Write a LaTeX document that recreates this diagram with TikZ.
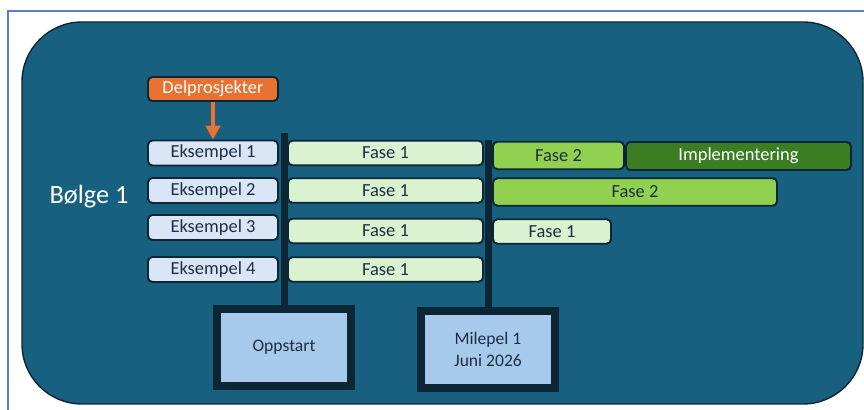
\documentclass[tikz,border=0pt]{standalone}
\usepackage{fontspec}
\setmainfont{Carlito}
\usetikzlibrary{arrows.meta}

\definecolor{bolgebg}{RGB}{23,96,128}
\definecolor{mork}{RGB}{12,38,54}
\definecolor{tekst}{RGB}{30,47,69}
\definecolor{ramme}{RGB}{91,127,208}
\definecolor{delfarge}{RGB}{233,113,50}
\definecolor{eksfarge}{RGB}{218,229,246}
\definecolor{fase1farge}{RGB}{218,242,208}
\definecolor{fase2farge}{RGB}{146,208,80}
\definecolor{implfarge}{RGB}{59,125,35}
\definecolor{milfarge}{RGB}{166,201,236}

\tikzset{
  boks/.style={draw=mork, line width=1.1pt, rounded corners=2.5pt, font=\fontsize{10.5}{12}\selectfont,
    text=tekst, inner sep=0pt},
  eks/.style={boks, fill=eksfarge, minimum width=2.6cm, minimum height=0.5cm},
  fase1/.style={boks, fill=fase1farge, minimum height=0.49cm},
  fase2/.style={boks, fill=fase2farge, minimum height=0.55cm},
  milepel/.style={draw=mork, line width=0.16cm, fill=milfarge, text=tekst, align=center,
    minimum width=2.67cm, minimum height=1.54cm, font=\fontsize{10}{12.5}\selectfont},
  tidslinje/.style={draw=mork, line width=0.14cm},
}

\begin{document}
\begin{tikzpicture}
  \useasboundingbox (0,0) rectangle (17.28,8.2);
  % ramme og bakgrunn
  \draw[ramme, line width=1pt] (0.16,0) -- (0.16,7.98) -- (17.28,7.98);
  \draw[mork, line width=0.8pt, fill=bolgebg, rounded corners=1.2cm] (0.44,0.12) rectangle (17.26,7.76);
  \node[text=white, font=\fontsize{15}{18}\selectfont] (bolge) at (1.78,4.26) {Bølge 1};

  % milepæler nederst
  \node[milepel] (oppstart) at (5.68,1.25) {Oppstart};
  \node[milepel] (milepel1) at (9.76,1.21) {Milepel 1\\Juni 2026};
  \coordinate (topp1) at (5.68,5.54);
  \coordinate (topp2) at (9.76,5.40);
  \draw[tidslinje] (topp1) -- (oppstart);
  \draw[tidslinje] (topp2) -- (milepel1);

  % delprosjekter
  \node[boks, fill=delfarge, text=white, minimum width=2.6cm, minimum height=0.48cm] (delprosjekter) at (4.26,6.42) {Delprosjekter};
  \node[eks] (eks1) at (4.26,5.14) {Eksempel 1};
  \node[eks] (eks2) at (4.26,4.39) {Eksempel 2};
  \node[eks] (eks3) at (4.26,3.65) {Eksempel 3};
  \node[eks] (eks4) at (4.26,2.81) {Eksempel 4};
  \draw[delfarge, line width=2.4pt, -{Triangle[length=2.8mm, width=2.9mm]}] (delprosjekter) -- (eks1);

  % faser, første periode
  \node[fase1, minimum width=3.9cm] (f1a) at (7.71,5.14) {Fase 1};
  \node[fase1, minimum width=3.9cm] (f1b) at (7.71,4.39) {Fase 1};
  \node[fase1, minimum width=3.9cm] (f1c) at (7.71,3.58) {Fase 1};
  \node[fase1, minimum width=3.9cm] (f1d) at (7.71,2.81) {Fase 1};

  % faser etter milepel 1
  \node[fase2, minimum width=2.62cm] (f2a) at (11.17,5.09) {Fase 2};
  \node[boks, fill=implfarge, text=white, minimum width=4.5cm, minimum height=0.56cm] (impl) at (14.77,5.08) {Implementering};
  \node[fase2, minimum width=5.68cm] (f2b) at (12.70,4.36) {Fase 2};
  \node[fase1, minimum width=2.36cm] (f1e) at (11.04,3.57) {Fase 1};
\end{tikzpicture}
\end{document}
